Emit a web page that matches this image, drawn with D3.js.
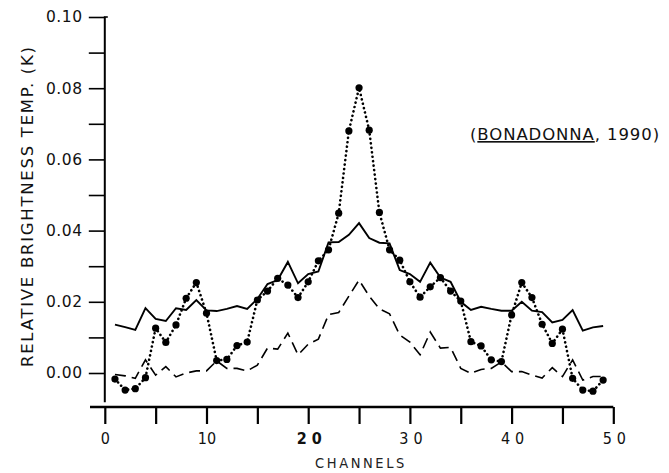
<!DOCTYPE html>
<html>
<head>
<meta charset="utf-8">
<script src="https://cdn.jsdelivr.net/npm/d3@7"></script>
<style>
  body { margin: 0; background: #fff; }
  svg { display: block; }
</style>
</head>
<body>
<div id="chart"></div>
<script>
// channel numbers along the x axis
const channels = [1, 2, 3, 4, 5, 6, 7, 8, 9, 10, 11, 12, 13, 14, 15, 16, 17, 18, 19, 20,
  21, 22, 23, 24, 25, 26, 27, 28, 29, 30, 31, 32, 33, 34, 35, 36, 37, 38, 39, 40,
  41, 42, 43, 44, 45, 46, 47, 48, 49];

// dotted curve with filled markers
const dottedValues = [-0.0017, -0.0048, -0.0044, -0.0013, 0.0126, 0.0086, 0.0135, 0.0210, 0.0254, 0.0168,
  0.0035, 0.0038, 0.0077, 0.0087, 0.0205, 0.0230, 0.0266, 0.0247, 0.0212, 0.0256,
  0.0315, 0.0346, 0.0449, 0.0680, 0.0801, 0.0682, 0.0451, 0.0346, 0.0317, 0.0256,
  0.0213, 0.0242, 0.0268, 0.0230, 0.0202, 0.0088, 0.0076, 0.0037, 0.0032, 0.0163,
  0.0254, 0.0212, 0.0137, 0.0083, 0.0123, -0.0015, -0.0048, -0.0051, -0.0020];

// solid curve
const solidValues = [0.0136, 0.0129, 0.0121, 0.0182, 0.0152, 0.0146, 0.0182, 0.0177, 0.0205, 0.0176,
  0.0174, 0.0180, 0.0188, 0.0180, 0.0208, 0.0250, 0.0261, 0.0312, 0.0252, 0.0278,
  0.0285, 0.0367, 0.0368, 0.0388, 0.0421, 0.0379, 0.0366, 0.0364, 0.0289, 0.0278,
  0.0256, 0.0310, 0.0268, 0.0256, 0.0200, 0.0177, 0.0186, 0.0180, 0.0175, 0.0175,
  0.0200, 0.0175, 0.0171, 0.0142, 0.0149, 0.0177, 0.0119, 0.0128, 0.0132];

// dashed curve
const dashedValues = [-0.0004, -0.0008, -0.0015, 0.0037, -0.0006, 0.0018, -0.0011, 0.0000, 0.0006, 0.0006,
  0.0034, 0.0013, 0.0013, 0.0006, 0.0022, 0.0070, 0.0067, 0.0112, 0.0051, 0.0081,
  0.0095, 0.0164, 0.0170, 0.0216, 0.0261, 0.0216, 0.0180, 0.0166, 0.0107, 0.0087,
  0.0051, 0.0115, 0.0070, 0.0072, 0.0013, -0.0001, 0.0010, 0.0013, 0.0031, 0.0004,
  0.0004, -0.0006, -0.0014, 0.0015, -0.0010, 0.0037, -0.0020, -0.0010, -0.0010];

const yTickValues = [0, 0.01, 0.02, 0.03, 0.04, 0.05, 0.06, 0.07, 0.08, 0.09, 0.10];
const yTickLabels = {0: "0.00", 0.02: "0.02", 0.04: "0.04", 0.06: "0.06", 0.08: "0.08", 0.1: "0.10"};
const xTickValues = [0, 5, 10, 15, 20, 25, 30, 35, 40, 45, 50];
const xTickLabels = {0: "0", 10: "10", 20: "20", 30: "30", 40: "40", 50: "50"};

const width = 669, height = 473;

const svg = d3.select('#chart').append('svg')
    .attr('width', width)
    .attr('height', height)
    .style('font-family', 'DejaVu Sans, sans-serif');

const x = d3.scaleLinear().domain([0, 50]).range([104.8, 613.3]);
const y = d3.scaleLinear().domain([0, 0.10]).range([373, 17]);
const xAxisY = 407;

// y axis
const yAxis = svg.append('g')
    .attr('transform', `translate(${x(0)},0)`)
    .call(d3.axisLeft(y)
      .tickValues(yTickValues)
      .tickSize(16)
      .tickSizeOuter(0)
      .tickFormat(d => yTickLabels[Math.round(d * 100) / 100] || ''));
yAxis.select('.domain').remove();
yAxis.selectAll('.tick line').attr('stroke', '#000').attr('stroke-width', 1.6);
yAxis.selectAll('.tick text')
    .attr('x', -22)
    .attr('font-size', 15.5)
    .attr('letter-spacing', 0.6)
    .attr('fill', '#111')
    .style('font-family', 'DejaVu Sans, sans-serif');
svg.append('line')
    .attr('x1', x(0)).attr('x2', x(0))
    .attr('y1', y(0.10)).attr('y2', y(-0.0082))
    .attr('stroke', '#000').attr('stroke-width', 2);
// small hook at the top of the y axis
svg.append('line')
    .attr('x1', x(0) - 1).attr('x2', x(0) + 3)
    .attr('y1', y(0.10)).attr('y2', y(0.10))
    .attr('stroke', '#000').attr('stroke-width', 1.6);

// x axis
const xAxis = svg.append('g')
    .attr('transform', `translate(0,${xAxisY})`)
    .call(d3.axisBottom(x)
      .tickValues(xTickValues)
      .tickSize(17)
      .tickSizeOuter(0)
      .tickFormat(d => xTickLabels[d] || ''));
xAxis.select('.domain').remove();
xAxis.selectAll('.tick line').attr('stroke', '#000').attr('stroke-width', 2.2);
xAxis.selectAll('.tick text')
    .attr('y', 26)
    .attr('dx', d => d >= 20 ? 3 : 0)
    .attr('font-size', 16)
    .attr('fill', '#111')
    .attr('letter-spacing', d => d >= 20 ? 5 : 0)
    .attr('font-weight', d => d === 20 ? 'bold' : 'normal')
    .style('font-family', 'DejaVu Sans Condensed, DejaVu Sans, sans-serif');
svg.append('line')
    .attr('x1', 90).attr('x2', x(50))
    .attr('y1', xAxisY).attr('y2', xAxisY)
    .attr('stroke', '#000').attr('stroke-width', 2.6);

// axis titles
svg.append('text')
    .attr('transform', `translate(33,207) rotate(-90)`)
    .attr('text-anchor', 'middle')
    .attr('font-size', 16.5)
    .attr('textLength', 320)
    .attr('lengthAdjust', 'spacing')
    .attr('fill', '#111')
    .text('RELATIVE BRIGHTNESS TEMP. (K)');

svg.append('text')
    .attr('x', 361).attr('y', 468)
    .attr('text-anchor', 'middle')
    .attr('font-size', 14.5)
    .attr('letter-spacing', 2.6)
    .attr('fill', '#222')
    .style('font-family', 'DejaVu Sans Condensed, DejaVu Sans, sans-serif')
    .text('CHANNELS');

// reference note
const note = svg.append('text')
    .attr('x', 470).attr('y', 140)
    .attr('font-size', 16.5)
    .attr('letter-spacing', 0.9)
    .attr('fill', '#111');
note.append('tspan').text('(');
note.append('tspan').style('text-decoration', 'underline').text('BONADONNA');
note.append('tspan').text(',  1990)');

// curves
const rows = channels.map((c, i) => ({c, dot: dottedValues[i], solid: solidValues[i], dash: dashedValues[i]}));
const lineOf = key => d3.line().x(d => x(d.c)).y(d => y(d[key]));

svg.append('path')
    .datum(rows)
    .attr('d', lineOf('dash'))
    .attr('fill', 'none')
    .attr('stroke', '#000')
    .attr('stroke-width', 1.6)
    .attr('stroke-dasharray', '11,6');

svg.append('path')
    .datum(rows)
    .attr('d', lineOf('solid'))
    .attr('fill', 'none')
    .attr('stroke', '#000')
    .attr('stroke-width', 1.9)
    .attr('stroke-linejoin', 'miter');

svg.append('path')
    .datum(rows)
    .attr('d', lineOf('dot'))
    .attr('fill', 'none')
    .attr('stroke', '#000')
    .attr('stroke-width', 2.6)
    .attr('stroke-linecap', 'round')
    .attr('stroke-dasharray', '0.1,4.4');

svg.append('g').selectAll('circle')
    .data(rows)
    .join('circle')
    .attr('cx', d => x(d.c))
    .attr('cy', d => y(d.dot))
    .attr('r', 3.6)
    .attr('fill', '#000');
</script>
</body>
</html>
